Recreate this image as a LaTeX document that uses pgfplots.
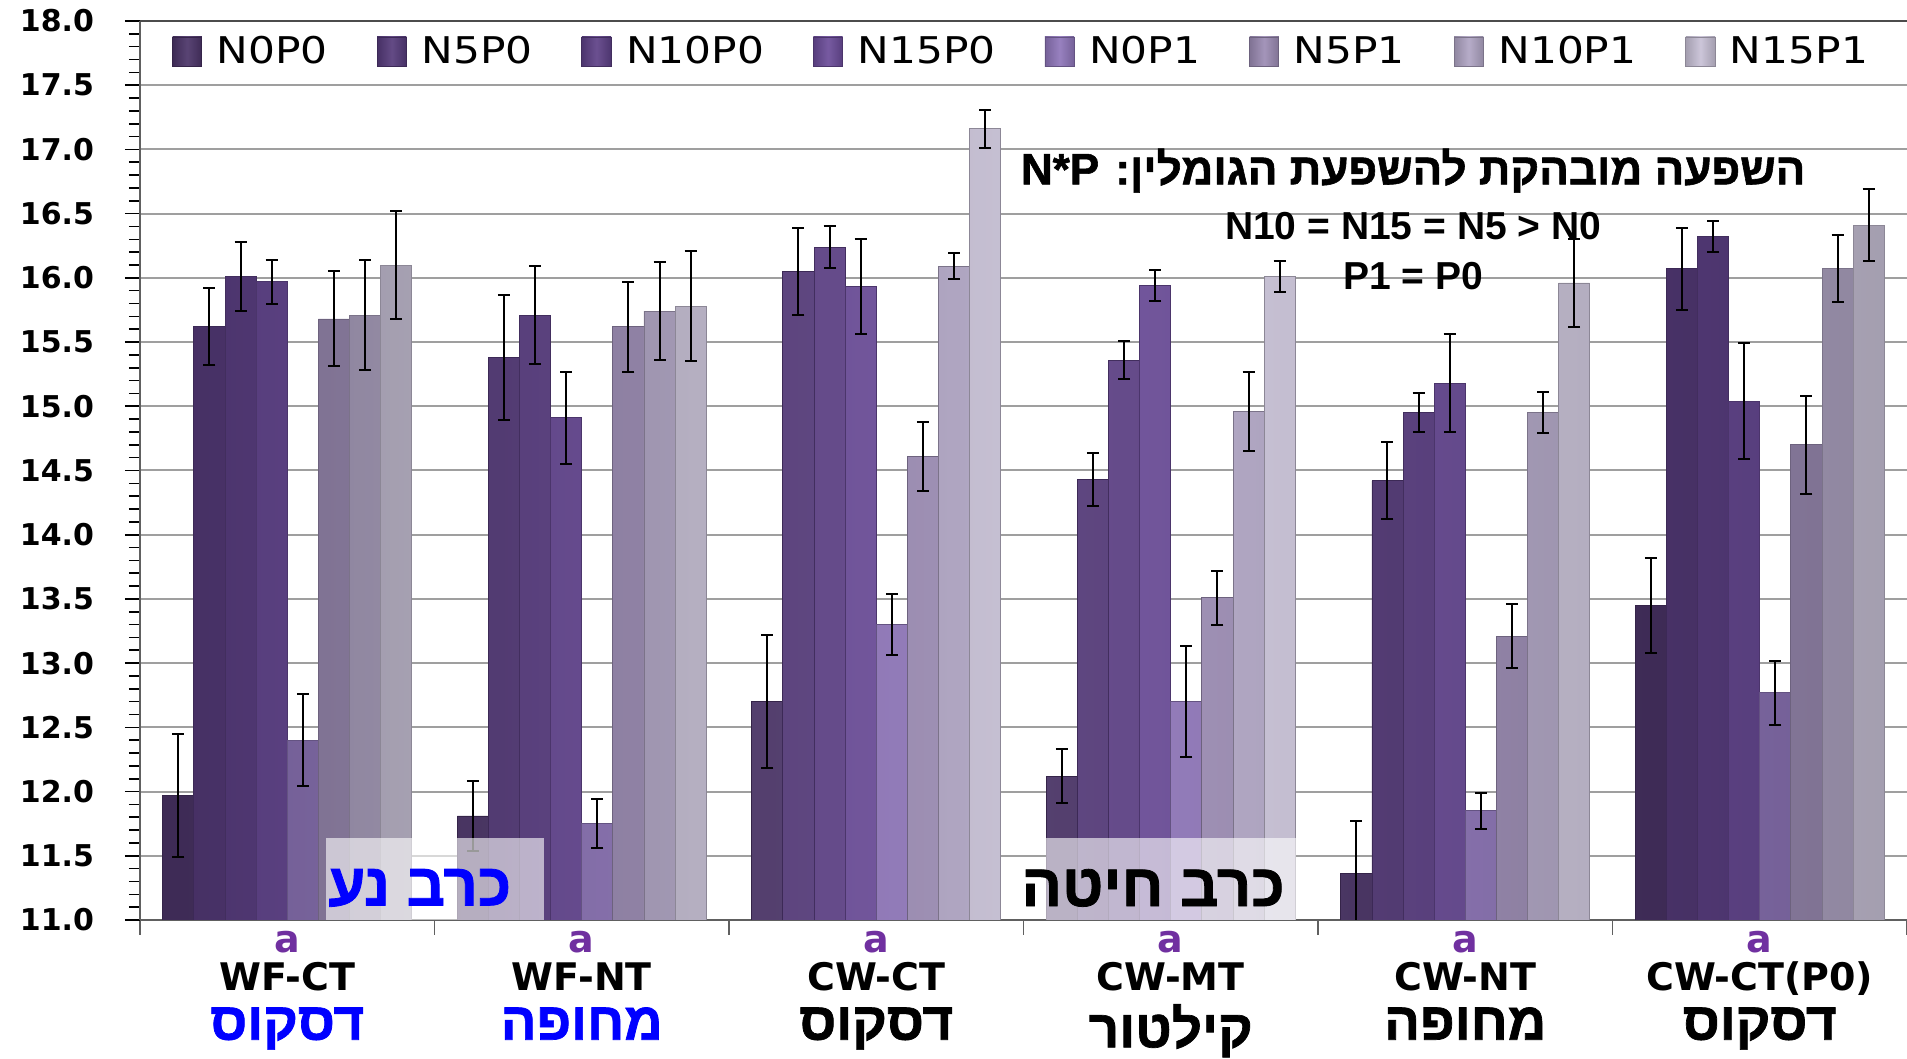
\documentclass[border=0pt]{standalone}
\usepackage{pgfplots}
\pgfplotsset{compat=1.18}
\usepackage{fontspec}
\usetikzlibrary{calc}
\setmainfont{DejaVu Sans}
\newfontfamily\tickfont{DejaVu Sans}
\newfontfamily\legfont[FakeStretch=1.15]{DejaVu Sans}
\newfontfamily\heb[Script=Hebrew, BoldFeatures={FakeBold=1.3}]{Liberation Sans}
\newfontfamily\arial{Liberation Sans}
\TeXXeTstate=1

\definecolor{cA}{HTML}{4B3468}
\definecolor{cB}{HTML}{563B7B}
\definecolor{cC}{HTML}{5E4187}
\definecolor{cD}{HTML}{6B4C99}
\definecolor{cE}{HTML}{8F76BA}
\definecolor{cF}{HTML}{9C8CB4}
\definecolor{cG}{HTML}{B0A5C4}
\definecolor{cH}{HTML}{C8C1D6}
\definecolor{apurple}{HTML}{7030A0}

\newcommand{\lab}[3]{\textcolor{apurple}{a}\\#1\\[5.5pt]{\heb\bfseries\fontsize{26.5}{28}\selectfont\color{#2}\beginR #3\endR}}

\pgfplotsset{
  barsty/.style={draw=#1!70!black, line width=0.4pt,
    left color=#1!82!black, right color=#1!82!black, middle color=#1!92!white},
}

\begin{document}
\begin{tikzpicture}
\begin{axis}[
    name=ax,
    width=883.5pt, height=449.5pt, scale only axis,
    ybar=0pt, bar width=15.56pt,
    xmin=-0.5, xmax=5.5, ymin=11, ymax=18,
    axis x line*=bottom, axis y line*=left,
    axis line style={-, draw=gray!75!black, line width=1pt},
    xtick={-0.5,0.5,...,5.5}, xticklabels={},
    extra x ticks={0,1,2,3,4,5},
    extra x tick labels={
      {\lab{WF-CT}{blue}{דסקוס}},
      {\lab{WF-NT}{blue}{מחופה}},
      {\lab{CW-CT}{black}{דסקוס}},
      {\lab{CW-MT}{black}{קילטור}},
      {\lab{CW-NT}{black}{מחופה}},
      {\lab{CW-CT(P0)}{black}{דסקוס}}},
    extra x tick style={major tick length=0pt, grid=none,
      tick label style={align=center, anchor=north, inner sep=0pt, yshift=-5.5pt,
        font=\tickfont\bfseries\fontsize{19}{19}\selectfont}},
    tick align=outside,
    x tick style={draw=gray!75!black, line width=0.8pt},
    major tick length=7.5pt, minor tick length=5.5pt,
    ytick={11,11.5,...,18}, minor y tick num=4,
    y tick style={draw=black, line width=0.8pt},
    ymajorgrids, major grid style={draw=gray!75, line width=1pt},
    y tick label style={font=\tickfont\bfseries\fontsize{15}{17}\selectfont, xshift=-12pt,
      /pgf/number format/fixed, /pgf/number format/fixed zerofill,
      /pgf/number format/precision=1},
    /pgf/number format/assume math mode=true,
    legend columns=8,
    legend image code/.code={\draw[#1] (0pt,-7.3pt) rectangle (14.6pt,7.3pt);},
    legend style={at={(axis description cs:0.018,0.966)}, anchor=west,
      draw=none, fill=none, inner sep=0pt,
      font=\legfont\fontsize{18.4}{20}\selectfont,
      nodes={inner sep=0pt, anchor=west},
      /tikz/every odd column/.append style={column sep=7.3pt},
      /tikz/every even column/.append style={column sep=24.5pt}},
    error bars/y dir=both, error bars/y explicit,
    error bars/error bar style={black, line width=1pt},
    error bars/error mark options={black, rotate=90, mark size=3pt, line width=1pt},
]
\addplot[barsty=cA] coordinates {(0,11.97) +- (0,0.48) (1,11.81) +- (0,0.27) (2,12.70) +- (0,0.52) (3,12.12) +- (0,0.21) (4,11.36) +- (0,0.41) (5,13.45) +- (0,0.37)};
\addplot[barsty=cB] coordinates {(0,15.62) +- (0,0.30) (1,15.38) +- (0,0.49) (2,16.05) +- (0,0.34) (3,14.43) +- (0,0.21) (4,14.42) +- (0,0.30) (5,16.07) +- (0,0.32)};
\addplot[barsty=cC] coordinates {(0,16.01) +- (0,0.27) (1,15.71) +- (0,0.38) (2,16.24) +- (0,0.16) (3,15.36) +- (0,0.15) (4,14.95) +- (0,0.15) (5,16.32) +- (0,0.12)};
\addplot[barsty=cD] coordinates {(0,15.97) +- (0,0.17) (1,14.91) +- (0,0.36) (2,15.93) +- (0,0.37) (3,15.94) +- (0,0.12) (4,15.18) +- (0,0.38) (5,15.04) +- (0,0.45)};
\addplot[barsty=cE] coordinates {(0,12.40) +- (0,0.36) (1,11.75) +- (0,0.19) (2,13.30) +- (0,0.24) (3,12.70) +- (0,0.43) (4,11.85) +- (0,0.14) (5,12.77) +- (0,0.25)};
\addplot[barsty=cF] coordinates {(0,15.68) +- (0,0.37) (1,15.62) +- (0,0.35) (2,14.61) +- (0,0.27) (3,13.51) +- (0,0.21) (4,13.21) +- (0,0.25) (5,14.70) +- (0,0.38)};
\addplot[barsty=cG] coordinates {(0,15.71) +- (0,0.43) (1,15.74) +- (0,0.38) (2,16.09) +- (0,0.10) (3,14.96) +- (0,0.31) (4,14.95) +- (0,0.16) (5,16.07) +- (0,0.26)};
\addplot[barsty=cH] coordinates {(0,16.10) +- (0,0.42) (1,15.78) +- (0,0.43) (2,17.16) +- (0,0.15) (3,16.01) +- (0,0.12) (4,15.96) +- (0,0.34) (5,16.41) +- (0,0.28)};
\legend{N0P0,N5P0,N10P0,N15P0,N0P1,N5P1,N10P1,N15P1}

% semi-transparent boxes with crop labels
\fill[white, opacity=0.6] (axis cs:0.132,11) rectangle (axis cs:0.871,11.64);
\fill[white, opacity=0.6] (axis cs:2.576,11) rectangle (axis cs:3.426,11.64);
\node[font=\heb\bfseries\fontsize{30}{32}\selectfont, text=blue] at (axis cs:0.45,11.25) {\beginR כרב נע\endR};
\node[font=\heb\bfseries\fontsize{30}{32}\selectfont] at (axis cs:2.94,11.25) {\beginR כרב חיטה\endR};

% significance note
\node[font=\heb\bfseries\fontsize{22}{24}\selectfont] at (axis cs:3.823,16.835) {\beginR השפעה מובהקת להשפעת הגומלין: \beginL N*P\endL\endR};
\node[font=\arial\bfseries\fontsize{19.5}{21}\selectfont] at (axis cs:3.823,16.40) {N10 = N15 = N5 > N0};
\node[font=\arial\bfseries\fontsize{19.5}{21}\selectfont] at (axis cs:3.823,16.01) {P1 = P0};
\end{axis}
\draw[gray!60!black, line width=1.2pt] (ax.north west) -- (ax.north east);
\pgfresetboundingbox
\path ($(ax.south west)+(-70pt,-69pt)$) rectangle ($(ax.north east)+(0pt,10.5pt)$);
\end{tikzpicture}
\end{document}
